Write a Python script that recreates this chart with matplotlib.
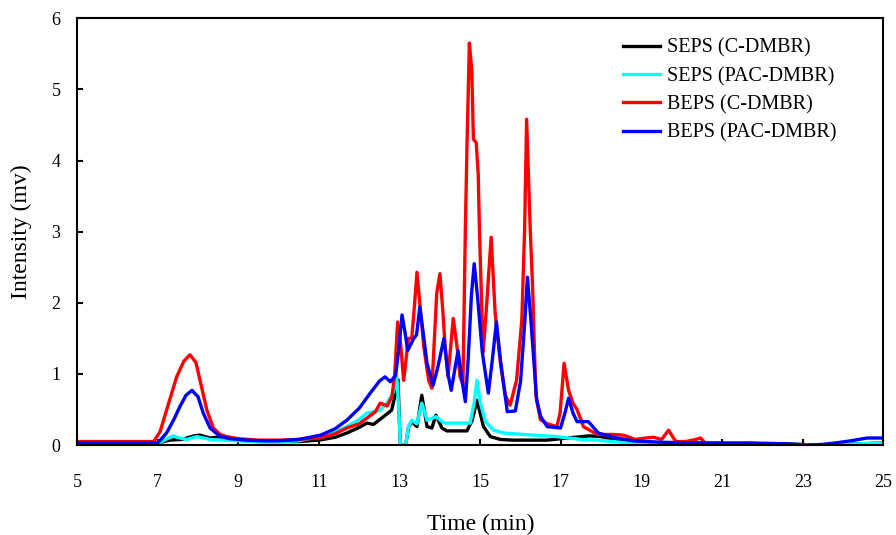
import matplotlib
matplotlib.use('Agg')
import matplotlib.pyplot as plt

plt.rcParams['font.family'] = ['Liberation Serif', 'DejaVu Serif']

# SEPS (C-DMBR)
t_seps_c = [5.0, 7.0, 7.3, 7.6, 7.9, 8.05, 8.3, 8.64, 8.9, 9.5, 10.0, 10.5, 11.0, 11.4,
            11.69, 12.0, 12.19, 12.35, 12.6, 12.8, 12.9, 12.96, 12.99, 13.02, 13.15, 13.22,
            13.3, 13.43, 13.55, 13.68, 13.8, 13.9, 14.05, 14.17, 14.67, 14.8, 14.92, 15.08,
            15.25, 15.5, 15.8, 16.66, 17.0, 17.7, 18.0, 18.3, 18.7, 19.5, 22.5, 23.4, 24.0, 25.0]
seps_c = [0.02, 0.03, 0.07, 0.08, 0.13, 0.14, 0.1, 0.12, 0.07, 0.05, 0.05, 0.05, 0.07, 0.11,
          0.17, 0.25, 0.31, 0.29, 0.4, 0.49, 0.73, 0.92, 0.4, 0.0, 0.0, 0.25,
          0.33, 0.26, 0.7, 0.26, 0.24, 0.42, 0.24, 0.2, 0.2, 0.35, 0.63, 0.26,
          0.12, 0.08, 0.07, 0.07, 0.09, 0.13, 0.12, 0.08, 0.04, 0.03, 0.02, 0.0, 0.01, 0.03]

# SEPS (PAC-DMBR)
t_seps_pac = [5.0, 7.0, 7.2, 7.38, 7.55, 7.72, 7.97, 8.3, 8.6, 9.0, 9.5, 10.0, 10.5, 11.0,
              11.4, 11.69, 12.0, 12.19, 12.52, 12.7, 12.85, 12.93, 12.98, 13.02, 13.15,
              13.22, 13.3, 13.43, 13.55, 13.68, 13.9, 14.1, 14.75, 14.85, 14.92, 15.0,
              15.13, 15.33, 15.6, 16.07, 16.9, 17.5, 17.9, 18.3, 19.0, 22.5, 23.4, 24.5, 25.0]
seps_pac = [0.02, 0.02, 0.08, 0.13, 0.1, 0.08, 0.12, 0.08, 0.07, 0.06, 0.05, 0.05, 0.06, 0.12,
            0.18, 0.26, 0.36, 0.45, 0.49, 0.6, 0.75, 0.96, 0.5, 0.0, 0.0,
            0.26, 0.35, 0.3, 0.59, 0.35, 0.4, 0.31, 0.31, 0.6, 0.91, 0.6,
            0.33, 0.21, 0.17, 0.15, 0.12, 0.08, 0.07, 0.05, 0.01, 0.01, 0.0, 0.02, 0.03]

# BEPS (C-DMBR)
t_beps_c = [5.0, 6.9, 7.06, 7.22, 7.47, 7.65, 7.8, 7.95, 8.05, 8.22, 8.38, 8.55, 8.71, 9.0,
            9.5, 10.0, 10.5, 11.03, 11.4, 11.69, 12.0, 12.19, 12.4, 12.52, 12.69, 12.81,
            12.88, 12.95, 13.02, 13.1, 13.22, 13.3, 13.36, 13.43, 13.5, 13.6, 13.72, 13.8,
            13.92, 14.0, 14.07, 14.13, 14.2, 14.33, 14.42, 14.5, 14.57, 14.63, 14.67, 14.73,
            14.79, 14.83, 14.9, 14.95, 14.98, 15.07, 15.15, 15.27, 15.37, 15.5, 15.62, 15.74,
            15.9, 16.03, 16.1, 16.15, 16.24, 16.3, 16.34, 16.38, 16.49, 16.66, 16.9, 16.98,
            17.08, 17.19, 17.3, 17.4, 17.56, 17.9, 18.3, 18.55, 18.85, 19.1, 19.3, 19.5,
            19.67, 19.85, 20.1, 20.35, 20.46, 20.6, 21.0, 21.5, 21.7, 21.9, 22.5, 22.6]
beps_c = [0.05, 0.05, 0.19, 0.49, 0.96, 1.18, 1.27, 1.16, 0.91, 0.49, 0.24, 0.15, 0.12, 0.09,
          0.07, 0.07, 0.08, 0.1, 0.16, 0.24, 0.3, 0.38, 0.47, 0.59, 0.55, 0.68,
          1.0, 1.73, 1.45, 0.91, 1.5, 1.5, 1.9, 2.43, 2.0, 1.38, 0.91, 0.8,
          2.13, 2.41, 1.9, 1.38, 0.96, 1.78, 1.4, 0.96, 0.85, 3.02, 4.19, 5.65,
          5.27, 4.3, 4.25, 3.8, 3.02, 1.3, 1.9, 2.92, 1.85, 1.15, 0.7, 0.56,
          0.91, 1.75, 3.02, 4.58, 3.02, 2.2, 1.4, 0.7, 0.36, 0.3, 0.26, 0.45,
          1.15, 0.77, 0.59, 0.5, 0.26, 0.15, 0.15, 0.14, 0.08, 0.1, 0.11, 0.08,
          0.21, 0.05, 0.05, 0.08, 0.1, 0.02, 0.02, 0.02, 0.03, 0.02, 0.02, 0.0]

# BEPS (PAC-DMBR)
t_beps_pac = [5.0, 7.0, 7.22, 7.4, 7.55, 7.7, 7.85, 8.0, 8.13, 8.3, 8.55, 8.8, 9.2, 9.6,
              10.0, 10.5, 11.04, 11.4, 11.69, 12.0, 12.27, 12.5, 12.64, 12.77, 12.9, 12.97,
              13.06, 13.13, 13.2, 13.35, 13.42, 13.5, 13.58, 13.68, 13.83, 13.95, 14.1, 14.2,
              14.28, 14.45, 14.55, 14.63, 14.7, 14.78, 14.85, 14.93, 15.05, 15.2, 15.3, 15.4,
              15.5, 15.67, 15.87, 16.0, 16.1, 16.17, 16.25, 16.4, 16.5, 16.66, 16.99, 17.1,
              17.19, 17.3, 17.4, 17.68, 17.93, 18.3, 18.8, 19.5, 20.5, 21.5, 22.5, 23.1,
              23.48, 23.8, 24.18, 24.6, 25.0]
beps_pac = [0.03, 0.03, 0.17, 0.36, 0.54, 0.7, 0.77, 0.68, 0.45, 0.24, 0.12, 0.09, 0.07, 0.06,
            0.06, 0.08, 0.14, 0.23, 0.35, 0.52, 0.73, 0.9, 0.96, 0.89, 0.98, 1.3,
            1.83, 1.6, 1.33, 1.5, 1.55, 1.94, 1.6, 1.15, 0.84, 1.1, 1.5, 1.0,
            0.77, 1.33, 0.9, 0.61, 1.2, 2.1, 2.55, 2.1, 1.31, 0.73, 1.2, 1.73,
            1.2, 0.47, 0.48, 0.9, 1.7, 2.36, 1.8, 0.63, 0.4, 0.26, 0.24, 0.45,
            0.66, 0.45, 0.33, 0.33, 0.17, 0.11, 0.06, 0.04, 0.03, 0.03, 0.02, 0.0,
            0.01, 0.03, 0.06, 0.1, 0.1]

series = [
    (t_seps_c, seps_c, 'SEPS (C-DMBR)', '#000000'),
    (t_seps_pac, seps_pac, 'SEPS (PAC-DMBR)', '#00FFFF'),
    (t_beps_c, beps_c, 'BEPS (C-DMBR)', '#FF0000'),
    (t_beps_pac, beps_pac, 'BEPS (PAC-DMBR)', '#0000FF'),
]
x_ticks = [5, 7, 9, 11, 13, 15, 17, 19, 21, 23, 25]
y_ticks = [0, 1, 2, 3, 4, 5, 6]

fig = plt.figure(figsize=(8.96, 5.35), dpi=100)
ax = fig.add_axes([0.086, 0.168, 0.9, 0.798])

for t, v, label, color in series:
    ax.plot(t, v, color=color, lw=2.4, label=label)

ax.set_xlim(5, 25)
ax.set_ylim(0, 6)
ax.set_xticks(x_ticks)
ax.set_yticks(y_ticks)
ax.tick_params(direction='in', length=4, width=1.5, labelsize=13)
ax.tick_params(axis='x', pad=21)
ax.tick_params(axis='y', pad=12)
for sp in ax.spines.values():
    sp.set_linewidth(1.5)

ax.set_xlabel('Time (min)', fontsize=17, labelpad=16)
ax.set_ylabel('Intensity (mv)', fontsize=17, labelpad=14)

ax.legend(loc='upper left', bbox_to_anchor=(0.655, 0.995), frameon=False, fontsize=14.5,
          handlelength=1.8, handletextpad=0.35, labelspacing=0.45)

fig.savefig('out.png', dpi=100)
